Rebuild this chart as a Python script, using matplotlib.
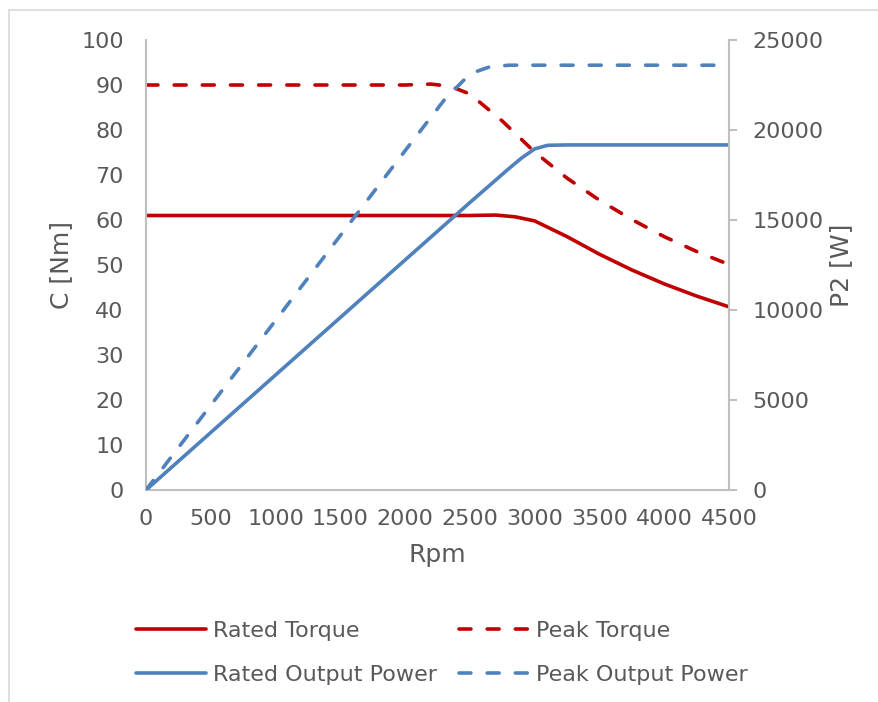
import matplotlib

matplotlib.use("Agg")
import matplotlib.pyplot as plt
from matplotlib.patches import Rectangle

# values
rpm_rated_torque = [0, 1000, 2000, 2500, 2700, 2850, 3000, 3250, 3500, 3750, 4000, 4250, 4500]
rated_torque = [61.0, 61.0, 61.0, 61.0, 61.1, 60.7, 59.8, 56.3, 52.4, 48.9, 45.8, 43.1, 40.7]

rpm_peak_torque = [0, 1000, 2000, 2200, 2350, 2500, 2750, 3000, 3250, 3500, 3750, 4000, 4250, 4500]
peak_torque = [90.0, 90.0, 90.0, 90.2, 89.7, 88.0, 82.0, 75.1, 69.3, 64.4, 60.1, 56.3, 53.0, 50.1]

rpm_rated_power = [0, 1000, 2000, 2500, 2800, 2900, 3000, 3100, 3250, 4500]
rated_power = [0, 6390, 12780, 15970, 17850, 18450, 18950, 19150, 19170, 19170]

rpm_peak_power = [0, 1000, 2000, 2300, 2450, 2550, 2650, 2800, 3000, 4500]
peak_power = [0, 9420, 18850, 21650, 22750, 23250, 23500, 23600, 23600, 23600]

RED = "#C00000"
BLUE = "#4F81BD"
TEXT = "#595959"
GRID = "#BFBFBF"

plt.rcParams["font.family"] = ["DejaVu Sans"]

W, H = 879, 702
fig = plt.figure(figsize=(W / 100, H / 100), dpi=100)
ax = fig.add_axes([146 / W, 1 - 490 / H, (729 - 146) / W, (490 - 40) / H])
ax2 = ax.twinx()

dash = (3.3, 4.5)
lw = 2.6
l1, = ax.plot(rpm_rated_torque, rated_torque, color=RED, lw=lw, solid_capstyle="round", label="Rated Torque")
l2, = ax.plot(rpm_peak_torque, peak_torque, color=RED, lw=lw, dashes=dash, dash_capstyle="round", label="Peak Torque")
l3, = ax2.plot(rpm_rated_power, rated_power, color=BLUE, lw=lw, solid_capstyle="round", label="Rated Output Power")
l4, = ax2.plot(rpm_peak_power, peak_power, color=BLUE, lw=lw, dashes=dash, dash_capstyle="round", label="Peak Output Power")

ax.set_xlim(0, 4500)
ax.set_ylim(0, 100)
ax2.set_ylim(0, 25000)
ax.set_xticks(range(0, 4501, 500))
ax.set_yticks(range(0, 101, 10))
ax2.set_yticks(range(0, 25001, 5000))

for a in (ax, ax2):
    for s in a.spines.values():
        s.set_visible(False)
ax.spines["left"].set_visible(True)
ax.spines["bottom"].set_visible(True)
ax2.spines["right"].set_visible(True)
for s in (ax.spines["left"], ax.spines["bottom"], ax2.spines["right"]):
    s.set_color(GRID)
    s.set_linewidth(1.5)

ax.tick_params(axis="y", length=0, pad=16, labelsize=16, labelcolor=TEXT)
ax.tick_params(axis="x", length=0, pad=14, labelsize=16, labelcolor=TEXT)
ax2.tick_params(axis="y", length=6, width=1.5, color=GRID, pad=11, labelsize=16, labelcolor=TEXT)

ax.set_ylabel("C [Nm]", fontsize=18, color=TEXT, labelpad=6)
ax2.set_ylabel("P2 [W]", fontsize=18, color=TEXT, labelpad=4)
ax.set_xlabel("Rpm", fontsize=18, color=TEXT, labelpad=10)

leg_kw = dict(
    frameon=False, fontsize=16, handlelength=3.15, handletextpad=0.3,
    labelspacing=1.07, borderpad=0, borderaxespad=0, labelcolor=TEXT, loc="upper left",
)
fig.legend(handles=[l1, l3], bbox_to_anchor=(136 / W, 1 - 621 / H), **leg_kw)
fig.legend(handles=[l2, l4], bbox_to_anchor=(459 / W, 1 - 621 / H), **leg_kw)

# chart area border (clipped by image edges)
fig.add_artist(Rectangle((9 / W, -0.1), 1.2, 1.1 - 10 / H, transform=fig.transFigure,
                         fill=False, edgecolor="#D9D9D9", lw=1.2, clip_on=False))

fig.savefig("out.png", dpi=100)
